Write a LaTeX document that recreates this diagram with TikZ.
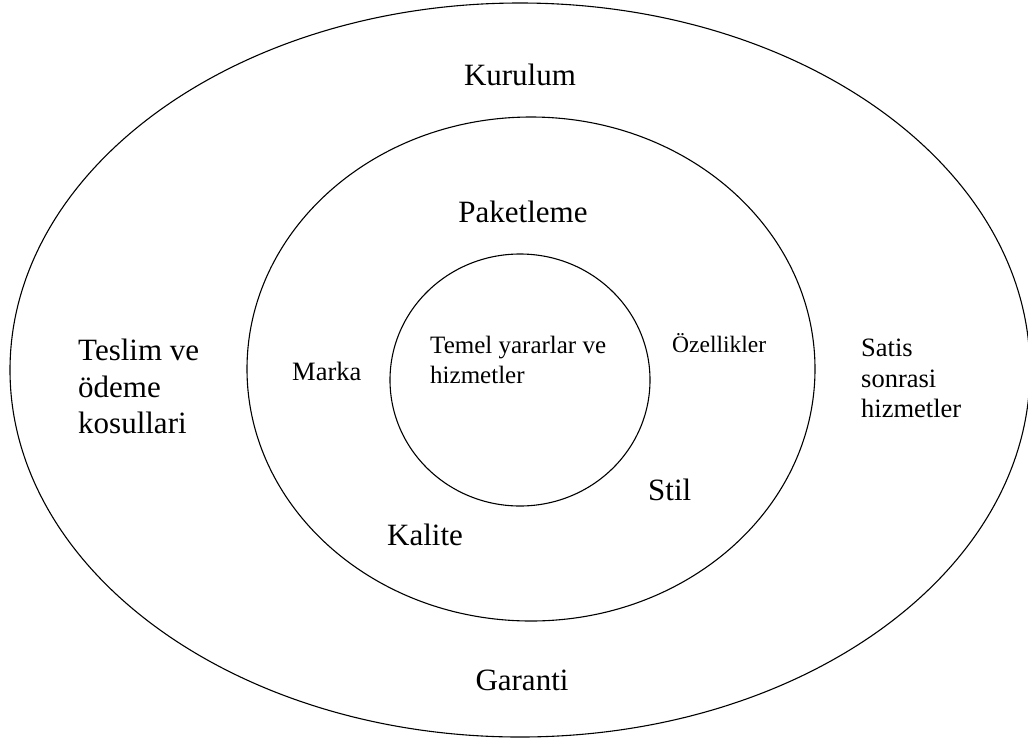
\documentclass[tikz,border=0pt]{standalone}
\usepackage{fontspec}
\setmainfont{Liberation Serif}
\usetikzlibrary{shapes.geometric}
\tikzset{
  ring/.style={draw=black, line width=1.1pt, ellipse, inner sep=0pt},
  biglabel/.style={font=\fontsize{31}{37}\selectfont, inner sep=0pt},
  midlabel/.style={font=\fontsize{26.5}{31}\selectfont, inner sep=0pt},
  smalllabel/.style={font=\fontsize{23.5}{30}\selectfont, inner sep=0pt},
  corelabel/.style={font=\fontsize{25}{30}\selectfont, inner sep=0pt}
}
\begin{document}
\begin{tikzpicture}[x=1pt,y=-1pt]
\useasboundingbox (0,0) rectangle (1028,740);
% rings
\node[ring, minimum width=1020pt, minimum height=734pt] (outer) at (520,370) {};
\node[ring, minimum width=568pt, minimum height=504pt] (middle) at (531,369) {};
\node[ring, minimum width=260pt, minimum height=252pt] (inner) at (520,380) {};
% outer ring labels
\node[biglabel, anchor=base] (kurulum) at (520,85) {Kurulum};
\node[biglabel, anchor=base] (garanti) at (522,690) {Garanti};
\node[biglabel, anchor=base west] (t1) at (78,360) {Teslim ve};
\node[biglabel, anchor=base west] (t2) at (78,397) {ödeme};
\node[biglabel, anchor=base west] (t3) at (78,433) {kosullari};
\node[midlabel, anchor=base west] (s1) at (861,356) {Satis};
\node[midlabel, anchor=base west] (s2) at (861,387) {sonrasi};
\node[midlabel, anchor=base west] (s3) at (861,417) {hizmetler};
% middle ring labels
\node[biglabel, anchor=base] (paket) at (523,222) {Paketleme};
\node[biglabel, anchor=base west] (kalite) at (387,545) {Kalite};
\node[biglabel, anchor=base west] (stil) at (648,500) {Stil};
\node[midlabel, anchor=base west] (marka) at (292,380) {Marka};
\node[smalllabel, anchor=base west] (ozel) at (672,352) {Özellikler};
% inner circle labels
\node[corelabel, anchor=base west] (temel1) at (430,353) {Temel yararlar ve};
\node[corelabel, anchor=base west] (temel2) at (430,383) {hizmetler};
\end{tikzpicture}
\end{document}
